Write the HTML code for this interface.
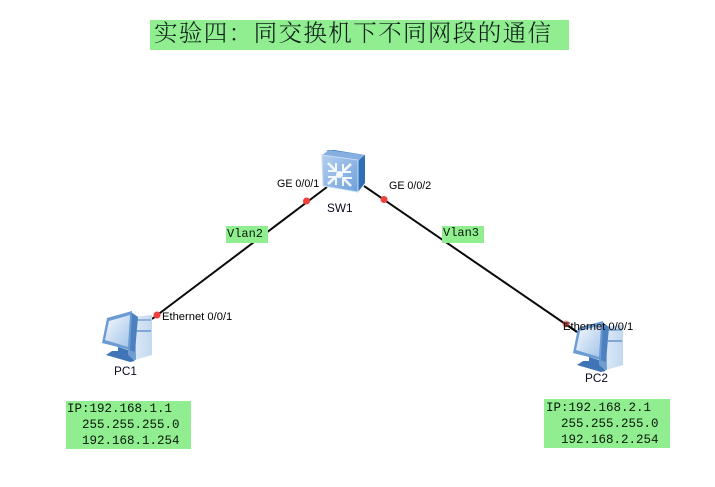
<!DOCTYPE html>
<html><head><meta charset="utf-8">
<style>
html,body{margin:0;padding:0;background:#fff;width:715px;height:487px;overflow:hidden}
svg{display:block}
.s{font-family:"Liberation Sans",sans-serif;font-size:10.7px;fill:#000}
.e{font-family:"Liberation Sans",sans-serif;font-size:11.2px;fill:#000}
.l{font-family:"Liberation Sans",sans-serif;font-size:11.8px;fill:#0a0a20}
.m{font-family:"Liberation Mono","DejaVu Sans Mono",monospace;font-size:12.5px;fill:#0a180a}
</style></head><body>
<svg width="715" height="487" viewBox="0 0 715 487" xmlns="http://www.w3.org/2000/svg">
<defs>
<linearGradient id="f" x1="0" y1="0" x2="1" y2="1"><stop offset="0" stop-color="#b4cff0"/><stop offset="1" stop-color="#6fa0da"/></linearGradient>
<linearGradient id="scr" x1="0" y1="0" x2="1" y2="1"><stop offset="0" stop-color="#f6f9fe"/><stop offset="1" stop-color="#a3c4e8"/></linearGradient>
<linearGradient id="tw" x1="0" y1="0" x2="1" y2="0"><stop offset="0" stop-color="#e4eef9"/><stop offset="1" stop-color="#c3d9ef"/></linearGradient>
<g id="pc">
<!-- tower -->
<path d="M29 6 L35 5 L54 3 L54 43 L37 48 L32 48 Z" fill="url(#tw)"/>
<path d="M29 6 L37 6 L38 48 L30 47 Z" fill="#6f9dd2"/>
<rect x="39" y="7" width="14" height="2" fill="#8fb2da"/>
<rect x="39" y="18" width="14" height="2" fill="#7fa6d4"/>
<!-- monitor back -->
<path d="M33 0 L40 5 L37 40 L31 38 Z" fill="#4d80bf"/>
<!-- monitor frame -->
<path d="M9 6 L34 -1 L32 38 L4 31 Z" fill="#6a9bd2"/>
<path d="M11 9 L32 3 L30 35 L7 28 Z" fill="url(#scr)"/>
<!-- stand -->
<path d="M20 35 L30 38 L30 43 L37 49 L32 50 L8 43 L14 39 L20 39 Z" fill="#3f74b6"/>
</g>
</defs>
<rect width="715" height="487" fill="#fff"/>
<rect x="150" y="20" width="419" height="30" fill="#90ee90"/>
<text x="154" y="41" font-family="'Noto Serif CJK SC','Liberation Serif',serif" font-size="23.5" letter-spacing="1.4" fill="#0c1a18" font-weight="300">实验四：同交换机下不同网段的通信</text>

<g stroke="#0a0a0a" stroke-width="2" fill="none">
<line x1="152" y1="319" x2="327" y2="187"/>
<line x1="364" y1="186" x2="577" y2="332"/>
</g>
<circle cx="306.500" cy="201" r="3.500" fill="#f0403c"/>
<circle cx="384" cy="199.500" r="3.500" fill="#f0403c"/>
<circle cx="157" cy="315" r="3.500" fill="#f0403c"/>

<!-- switch -->
<path d="M326 150 L334 150 L365 155 L365 183 L358 192 L352 160 Z" fill="#2f6fb8"/>
<path d="M322 155 L329 150 L365 155 L358 161 Z" fill="#86aee0"/>
<path d="M322 155 L358 160 L358 192 L323 186 Z" fill="url(#f)" stroke="#c7dcf4" stroke-width="1"/>
<g stroke="#f2f7fe" fill="none" stroke-width="2.600">
<path d="M328 163 L336 171 M351 164 L343 171.500 M328 184 L336 176.500 M351 186 L343 178"/>
</g>
<g stroke="#f2f7fe" fill="none" stroke-width="2">
<path d="M336 163 L336 171 L328 171 M343 164 L343 172 L351 172 M336 185 L336 177 L328 177 M343 186 L343 178 L352 178"/>
</g>
<circle cx="339.500" cy="174.500" r="3.500" fill="#f6faff"/>

<text x="277" y="187" class="s">GE 0/0/1</text>
<text x="389" y="189" class="s">GE 0/0/2</text>
<text x="327" y="212" class="l">SW1</text>

<rect x="226" y="226" width="42" height="17" fill="#90ee90"/>
<text x="227" y="237" class="m" style="font-size:12px">Vlan2</text>
<rect x="442" y="226" width="42" height="17" fill="#90ee90"/>
<text x="443" y="236" class="m" style="font-size:12px">Vlan3</text>

<use href="#pc" x="98" y="312"/>
<use href="#pc" x="569" y="322"/>
<line x1="566" y1="324" x2="577" y2="332" stroke="#0a0a0a" stroke-width="2"/>
<circle cx="566" cy="324" r="3.500" fill="#f0403c" opacity=".6"/>

<text x="162" y="320" class="e">Ethernet 0/0/1</text>
<text x="563" y="330" class="e">Ethernet 0/0/1</text>
<text x="114" y="375" class="l">PC1</text>
<text x="585" y="382" class="l">PC2</text>

<rect x="66" y="401" width="125" height="48" fill="#90ee90"/>
<text x="67" y="412" class="m" xml:space="preserve">IP:192.168.1.1</text>
<text x="67" y="428" class="m" xml:space="preserve">  255.255.255.0</text>
<text x="67" y="444" class="m" xml:space="preserve">  192.168.1.254</text>

<rect x="544" y="399" width="126" height="49" fill="#90ee90"/>
<text x="546" y="411" class="m" xml:space="preserve">IP:192.168.2.1</text>
<text x="546" y="427" class="m" xml:space="preserve">  255.255.255.0</text>
<text x="546" y="443" class="m" xml:space="preserve">  192.168.2.254</text>
</svg>
</body></html>
